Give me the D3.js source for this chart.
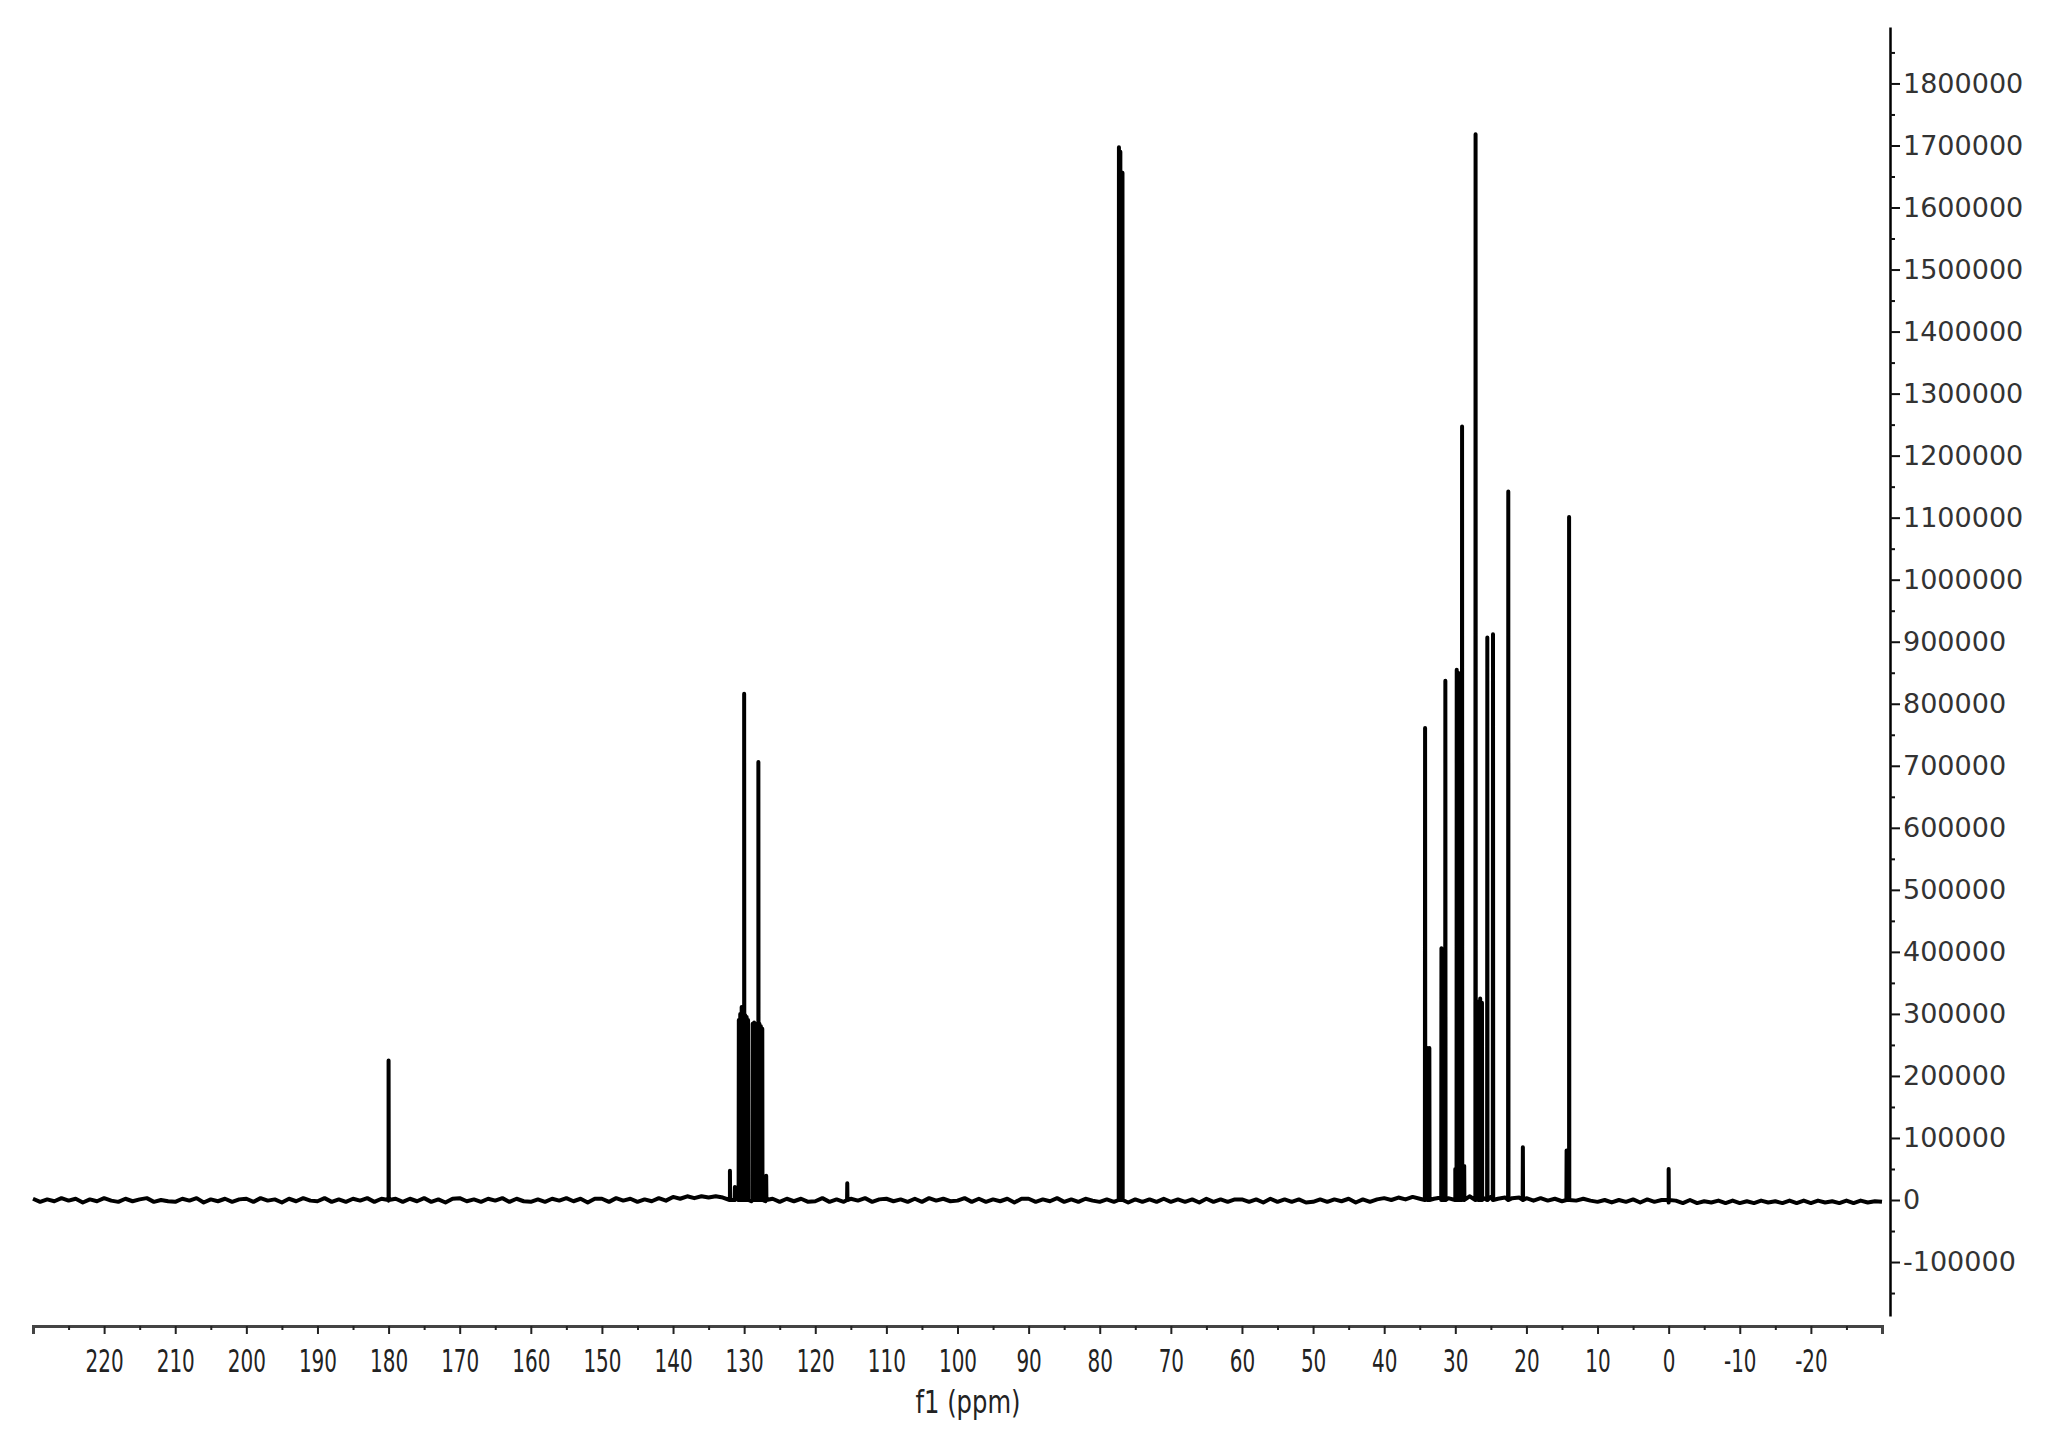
<!DOCTYPE html>
<html><head><meta charset="utf-8">
<script src="https://cdn.jsdelivr.net/npm/d3@7"></script>
<style>body{margin:0;background:#fff;} svg{display:block;}</style>
</head><body>
<svg id="chart" width="2052" height="1445"></svg>
<script>
// ---- data ----
const xTickValues = [220,210,200,190,180,170,160,150,140,130,120,110,100,90,80,70,60,50,40,30,20,10,0,-10,-20];
const xMinorValues = [225,215,205,195,185,175,165,155,145,135,125,115,105,95,85,75,65,55,45,35,25,15,5,-5,-15,-25];
const yTickValues = [-100000,0,100000,200000,300000,400000,500000,600000,700000,800000,900000,1000000,1100000,1200000,1300000,1400000,1500000,1600000,1700000,1800000];
const yMinorValues = [-150000,-50000,50000,150000,250000,350000,450000,550000,650000,750000,850000,950000,1050000,1150000,1250000,1350000,1450000,1550000,1650000,1750000,1850000];

// peak positions (ppm) and intensities
const peakPpm = [180.0, 132.0, 131.3, 130.75, 130.55, 130.35, 130.15, 130.0, 129.85, 129.65, 129.45,
  128.8, 128.6, 128.4, 128.2, 128.0, 127.85, 127.65, 127.45, 126.9, 115.5,
  77.3, 77.1, 76.8,
  34.25, 33.85, 33.65, 31.95, 31.75, 31.4, 30.0, 29.8, 29.6, 29.4, 29.05, 28.75,
  27.15, 26.75, 26.5, 26.25, 25.5, 24.7, 22.55, 20.5, 14.35, 14.0, 0.0];
const peakHeight = [225000, 47000, 21000, 290000, 300000, 311000, 305000, 816000, 298000, 295000, 290000,
  284000, 286000, 282000, 284000, 706000, 284000, 280000, 276000, 39000, 27000,
  1697000, 1690000, 1656000,
  761000, 245000, 245000, 406000, 400000, 837000, 50000, 855000, 850000, 848000, 1247000, 55000,
  1718000, 320000, 325000, 318000, 907000, 912000, 1142000, 85000, 80000, 1101000, 50000];

// baseline noise, one value per ppm from 230 down to -30 (in thousands)
const baselineNoiseK = [
  2,-3,1,-2,3,-1,2,-4,1,-2,
  3,-1,-3,2,-2,1,3,-3,0,-2,
  -3,2,-1,3,-4,1,-2,2,-3,1,
  2,-3,3,-1,1,-4,2,-2,3,-1,
  -2,3,-3,1,-3,2,-1,3,-3,2,
  -1,2,-3,2,-2,3,-3,1,-4,2,
  3,-2,1,-3,2,-1,3,-3,2,-2,
  -3,1,-3,2,-1,3,-2,2,-4,2,
  2,-3,3,-1,2,-3,1,-2,3,-1,
  5,2,6,3,6,4,6,4,7,5,
  3,-2,3,-2,2,-3,2,-2,2,-3,
  -2,3,-3,1,-3,2,-1,3,-3,1,
  2,-2,1,-3,2,-3,3,-1,2,-2,
  -1,3,-3,2,-3,1,-2,2,-4,2,
  2,-3,1,-2,3,-3,1,-3,2,-1,
  -3,1,-3,2,-4,1,-3,1,-3,2,
  -3,1,-3,1,-4,2,-3,1,-3,1,
  1,-3,1,-4,2,-3,1,-3,1,-4,
  -3,1,-3,1,-2,2,-4,1,-3,1,
  3,0,4,1,5,2,5,2,4,3,
  5,2,6,3,3,5,2,4,3,4,
  3,-1,3,-1,2,-2,3,-1,2,-1,
  -3,0,-4,0,-3,1,-4,1,-3,0,
  -4,-1,-5,0,-5,-2,-4,-1,-5,-1,
  -5,-2,-5,-1,-4,-2,-5,-1,-5,-1,
  -5,-1,-4,-2,-5,-1,-5,-1,-4,-2,
  -3];
const noisePpm = d3.range(230, -30.5, -1);

// ---- layout ----
const svg = d3.select('#chart');
const x = d3.scaleLinear().domain([230, -30]).range([33, 1882]);
const y = d3.scaleLinear().domain([-187000, 1891000]).range([1316, 27]);
const xAxisY = 1326, yAxisX = 1890;

// spectrum
const pts = [];
noisePpm.forEach((p, i) => pts.push([p, baselineNoiseK[i] * 1000]));
peakPpm.forEach((p, i) => {
  pts.push([p + 0.03, 0]);
  pts.push([p, peakHeight[i]]);
  pts.push([p - 0.03, 0]);
});
pts.sort((a, b) => b[0] - a[0]);
const line = d3.line().x(d => x(d[0])).y(d => y(d[1]));
svg.append('path').attr('d', line(pts))
  .attr('fill', 'none').attr('stroke', '#000').attr('stroke-width', 4)
  .attr('stroke-linejoin', 'round');

// x axis
const fmt = d => String(d);
const gx = svg.append('g').attr('transform', `translate(0,${xAxisY})`)
  .call(d3.axisBottom(x).tickValues(xTickValues).tickFormat(fmt).tickSize(8).tickSizeOuter(8).tickPadding(15));
gx.select('.domain').attr('stroke', '#444').attr('stroke-width', 3);
gx.selectAll('.tick line').attr('stroke', '#222').attr('stroke-width', 2);
gx.selectAll('.tick text')
  .attr('font-family', '"Liberation Sans Narrow", "DejaVu Sans Condensed", sans-serif')
  .attr('font-size', 32).attr('fill', '#222')
  .attr('lengthAdjust', 'spacingAndGlyphs')
  .attr('textLength', d => { const s = String(d); return s.replace('-', '').length * 12.7 + (s.includes('-') ? 7 : 0); });
const gxm = svg.append('g').attr('transform', `translate(0,${xAxisY})`)
  .call(d3.axisBottom(x).tickValues(xMinorValues).tickFormat('').tickSize(4).tickSizeOuter(0));
gxm.select('.domain').remove();
gxm.selectAll('.tick line').attr('stroke', '#222').attr('stroke-width', 2);

svg.append('text').attr('x', 968).attr('y', 1413).attr('text-anchor', 'middle')
  .attr('font-family', '"Liberation Sans Narrow", "DejaVu Sans Condensed", sans-serif')
  .attr('font-size', 32).attr('fill', '#222')
  .attr('textLength', 105).attr('lengthAdjust', 'spacingAndGlyphs')
  .text('f1 (ppm)');

// y axis
const gy = svg.append('g').attr('transform', `translate(${yAxisX},0)`)
  .call(d3.axisRight(y).tickValues(yTickValues).tickFormat(fmt).tickSize(10).tickSizeOuter(0).tickPadding(3));
gy.select('.domain').attr('stroke', '#000').attr('stroke-width', 2.5);
gy.selectAll('.tick line').attr('stroke', '#111').attr('stroke-width', 2);
gy.selectAll('.tick text')
  .attr('font-family', '"DejaVu Sans", Verdana, sans-serif')
  .attr('font-size', 27).attr('fill', '#333');
const gym = svg.append('g').attr('transform', `translate(${yAxisX},0)`)
  .call(d3.axisRight(y).tickValues(yMinorValues).tickFormat('').tickSize(5).tickSizeOuter(0));
gym.select('.domain').remove();
gym.selectAll('.tick line').attr('stroke', '#111').attr('stroke-width', 2);
</script>
</body></html>
